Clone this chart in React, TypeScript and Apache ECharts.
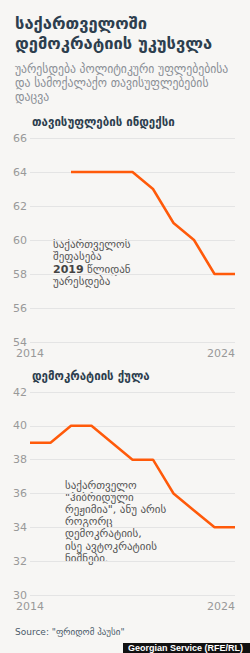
import React, { useEffect, useRef } from "react";
import * as echarts from "echarts";

const years = [2014, 2015, 2016, 2017, 2018, 2019, 2020, 2021, 2022, 2023, 2024];
const freedomIndex: (number | null)[] = [null, null, 64, 64, 64, 64, 63, 61, 60, 58, 58];
const democracyScore: number[] = [39, 39, 40, 40, 39, 38, 38, 36, 35, 34, 34];

const titleLines = ["საქართველოში", "დემოკრატიის უკუსვლა"];
const subtitleLines = ["უარესდება პოლიტიკური უფლებებისა", "და სამოქალაქო თავისუფლებების", "დაცვა"];
const chart1Title = "თავისუფლების ინდექსი";
const chart2Title = "დემოკრატიის ქულა";
const note1Lines = ["საქართველოს", "შეფასება", "{b|2019} წლიდან", "უარესდება"];
const note2Lines = [
  "საქართველო",
  "\"ჰიბრიდული",
  "რეჟიმია\", ანუ არის",
  "როგორც",
  "დემოკრატიის,",
  "ისე ავტოკრატიის",
  "ნიშნები.",
];
const sourceText = "Source: \"ფრიდომ ჰაუსი\"";
const creditText = "Georgian Service (RFE/RL)";

const FONT = "'DejaVu Sans', 'Noto Sans', sans-serif";
const ORANGE = "#ff5a0a";
const DARK = "#2d3e4e";

export default function App() {
  const ref = useRef<HTMLDivElement>(null);
  useEffect(() => {
    document.body.style.margin = "0";
    const chart = echarts.init(ref.current!, null, { renderer: "svg" });
    const xAxisCommon = (gridIndex: number) => ({
      type: "value" as const,
      gridIndex,
      min: 2014,
      max: 2024,
      interval: 10,
      axisLine: { show: false },
      axisTick: { show: false },
      splitLine: { show: false },
      axisLabel: {
        color: "#999",
        fontSize: 11,
        fontFamily: FONT,
        margin: 6,
        alignMaxLabel: "right",
        formatter: (v: number) => String(v),
      },
    });
    const yAxisCommon = (gridIndex: number, min: number, max: number) => ({
      type: "value" as const,
      gridIndex,
      min,
      max,
      interval: 2,
      axisLine: { show: false },
      axisTick: { show: false },
      splitLine: { lineStyle: { color: "#e4e4e4", width: 1 } },
      axisLabel: { color: "#999", fontSize: 11, fontFamily: FONT, margin: 3 },
    });
    const texts: any[] = [];
    titleLines.forEach((t, i) =>
      texts.push({
        type: "text",
        left: 15,
        top: 15 + i * 19.5,
        style: { text: t, fill: DARK, font: `bold 16.5px ${FONT}` },
      })
    );
    subtitleLines.forEach((t, i) =>
      texts.push({
        type: "text",
        left: 15,
        top: 63 + i * 14,
        style: { text: t, fill: "#8a8f96", font: `11.7px ${FONT}` },
      })
    );
    texts.push({
      type: "text",
      left: 32,
      top: 116,
      style: { text: chart1Title, fill: DARK, font: `bold 11.5px ${FONT}` },
    });
    texts.push({
      type: "text",
      left: 32,
      top: 370,
      style: { text: chart2Title, fill: DARK, font: `bold 11.5px ${FONT}` },
    });
    texts.push({
      type: "text",
      left: 53,
      top: 238,
      style: {
        text: note1Lines.join("\n"),
        fill: "#555",
        font: `11px ${FONT}`,
        lineHeight: 12.5,
        rich: { b: { fontWeight: "bold", fontSize: 11, fontFamily: FONT, fill: "#444", lineHeight: 12.5 } },
      },
    });
    texts.push({
      type: "text",
      left: 65,
      top: 479,
      style: {
        text: note2Lines.join("\n"),
        fill: "#555",
        font: `11px ${FONT}`,
        lineHeight: 12.2,
      },
    });
    texts.push({
      type: "text",
      left: 15,
      top: 627,
      style: { text: sourceText, fill: "#4a5a6a", font: `9px ${FONT}` },
    });
    texts.push({
      type: "rect",
      left: 123,
      top: 643,
      shape: { width: 127, height: 10 },
      style: { fill: "#111" },
    });
    texts.push({
      type: "text",
      left: 128,
      top: 643,
      style: { text: creditText, fill: "#fff", font: `bold 9px 'Liberation Sans', Arial, sans-serif` },
    });

    chart.setOption({
      animation: false,
      backgroundColor: "#f7f6f4",
      grid: [
        { left: 30, right: 15, top: 138, height: 204 },
        { left: 30, right: 15, top: 392, height: 203 },
      ],
      xAxis: [xAxisCommon(0), xAxisCommon(1)],
      yAxis: [yAxisCommon(0, 54, 66), yAxisCommon(1, 30, 42)],
      series: [
        {
          type: "line",
          xAxisIndex: 0,
          yAxisIndex: 0,
          data: years.map((y, i) => [y, freedomIndex[i]]),
          showSymbol: false,
          lineStyle: { color: ORANGE, width: 2.5 },
          connectNulls: false,
        },
        {
          type: "line",
          xAxisIndex: 1,
          yAxisIndex: 1,
          data: years.map((y, i) => [y, democracyScore[i]]),
          showSymbol: false,
          lineStyle: { color: ORANGE, width: 2.5 },
        },
      ],
      graphic: texts,
    });
    return () => chart.dispose();
  }, []);
  return <div ref={ref} style={{ width: 250, height: 653 }} />;
}
